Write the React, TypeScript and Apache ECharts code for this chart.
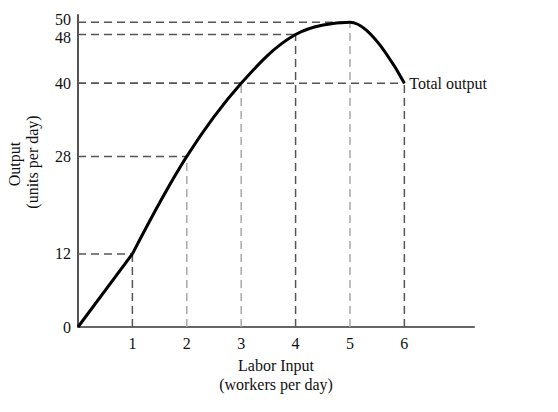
import React, { useEffect, useRef } from "react";
import * as echarts from "echarts";

const labor = [0, 1, 2, 3, 4, 5, 6];
const output = [0, 12, 28, 40, 48, 50, 40];
const yTickValues = [0, 12, 28, 40, 48, 50];
const xTickValues = [1, 2, 3, 4, 5, 6];
const curveLabel = "Total output";
const xName = ["Labor Input", "(workers per day)"];
const yName = ["Output", "(units per day)"];

const FONT = "Liberation Serif";
const DARK = "#555555";
const LIGHT = "#a8a8a8";
const verticalShade = [DARK, DARK, LIGHT, LIGHT, DARK, LIGHT, DARK];

export default function App() {
  const ref = useRef<HTMLDivElement>(null);
  useEffect(() => {
    if (!ref.current) return;
    const chart = echarts.init(ref.current, undefined, { renderer: "svg" });
    const guides: any[] = [];
    for (let i = 1; i < labor.length; i++) {
      guides.push({
        type: "line",
        data: [
          [0, output[i]],
          [labor[i], output[i]],
        ],
        symbol: "none",
        silent: true,
        z: 1,
        lineStyle: { color: DARK, width: 1.5, type: [8, 5] },
      });
      guides.push({
        type: "line",
        data: [
          [labor[i], 0],
          [labor[i], output[i]],
        ],
        symbol: "none",
        silent: true,
        z: 1,
        lineStyle: { color: verticalShade[i], width: 1.5, type: [8, 5] },
      });
    }
    const pts = labor.map((x, i) => [x, output[i]]);
    chart.setOption({
      animation: false,
      backgroundColor: "#ffffff",
      textStyle: { fontFamily: FONT },
      grid: { left: 78, top: 15, width: 396, height: 312 },
      xAxis: {
        type: "value",
        min: 0,
        max: 7.28,
        splitLine: { show: false },
        axisLine: { lineStyle: { color: "#666666", width: 2 } },
        axisTick: { show: false },
        axisLabel: {
          customValues: xTickValues,
          color: "#111",
          fontSize: 16,
          fontFamily: FONT,
          margin: 8,
        },
        name: xName.join("\n"),
        nameLocation: "middle",
        nameGap: 29,
        nameTextStyle: { color: "#111", fontSize: 16, fontFamily: FONT, lineHeight: 19 },
      },
      yAxis: {
        type: "value",
        min: 0,
        max: 51.2,
        splitLine: { show: false },
        axisLine: { show: true, lineStyle: { color: "#555555", width: 2 } },
        axisTick: { show: false },
        axisLabel: {
          customValues: yTickValues,
          hideOverlap: false,
          showMaxLabel: true,
          showMinLabel: true,
          color: "#111",
          fontSize: 16,
          fontFamily: FONT,
          margin: 7,
          formatter: (v: number) =>
            v === 50 ? "{up|50}" : v === 48 ? "{dn|48}" : String(v),
          rich: {
            up: { fontSize: 16, fontFamily: FONT, color: "#111", padding: [0, 0, 5, 0] },
            dn: { fontSize: 16, fontFamily: FONT, color: "#111", padding: [5, 0, 0, 0] },
          },
        },
      },
      graphic: [
        {
          type: "text",
          x: 14,
          y: 164,
          rotation: Math.PI / 2,
          style: {
            text: yName[0],
            fontSize: 16,
            fontFamily: FONT,
            fill: "#111",
            align: "center",
            verticalAlign: "middle",
          },
        },
        {
          type: "text",
          x: 32,
          y: 162,
          rotation: Math.PI / 2,
          style: {
            text: yName[1],
            fontSize: 16,
            fontFamily: FONT,
            fill: "#111",
            align: "center",
            verticalAlign: "middle",
          },
        },
      ],
      series: [
        ...guides,
        {
          type: "line",
          data: pts.slice(0, 2),
          symbol: "none",
          z: 5,
          lineStyle: { color: "#000", width: 3 },
        },
        {
          type: "line",
          data: pts.slice(1),
          symbol: "none",
          smooth: 0.35,
          z: 5,
          lineStyle: { color: "#000", width: 3 },
          endLabel: {
            show: true,
            formatter: curveLabel,
            color: "#111",
            fontSize: 16,
            fontFamily: FONT,
            distance: 5,
          },
        },
      ],
    });
    return () => chart.dispose();
  }, []);
  return <div ref={ref} style={{ width: 558, height: 412, position: "absolute", left: 0, top: 0 }} />;
}
